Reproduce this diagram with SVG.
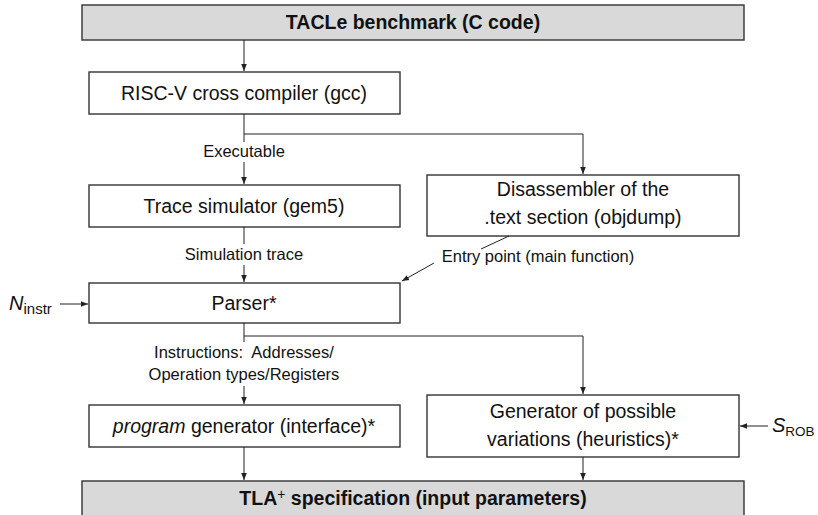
<svg xmlns="http://www.w3.org/2000/svg" width="818" height="515" viewBox="0 0 818 515">
<defs>
<marker id="ah" viewBox="0 0 10 10" refX="10" refY="5" markerWidth="7" markerHeight="7" markerUnits="userSpaceOnUse" orient="auto">
<path d="M0,1 L10,5 L0,9 z" fill="#222"/>
</marker>
<style>
.box{fill:#fff;stroke:#333;stroke-width:1.4}
.gbox{fill:#d9d9d9;stroke:#333;stroke-width:1.4}
.t{font-family:"Liberation Sans",Arial,sans-serif;font-size:19.5px;fill:#111;text-anchor:middle}
.b{font-weight:bold;font-size:19.5px}
.l{font-family:"Liberation Sans",Arial,sans-serif;font-size:16.5px;fill:#111;text-anchor:middle}
.c{fill:none;stroke:#222;stroke-width:1}
</style>
</defs>
<rect width="818" height="515" fill="#fff"/>
<g id="tacle"><rect class="gbox" x="82" y="5" width="662" height="35"/><text class="t b" x="413" y="29">TACLe benchmark (C code)</text></g>
<g id="riscv"><rect class="box" x="89" y="72" width="311" height="42"/><text class="t" x="244" y="100">RISC-V cross compiler (gcc)</text></g>
<g id="trace"><rect class="box" x="89" y="185" width="311" height="42"/><text class="t" x="244" y="213">Trace simulator (gem5)</text></g>
<g id="disasm"><rect class="box" x="427" y="175" width="312" height="61"/><text class="t" x="583" y="196">Disassembler of the</text><text class="t" x="583" y="224">.text section (objdump)</text></g>
<g id="parser"><rect class="box" x="89" y="283" width="311" height="40"/><text class="t" x="244" y="310">Parser*</text></g>
<g id="proggen"><rect class="box" x="89" y="405" width="311" height="42"/><text class="t" x="244" y="433"><tspan font-style="italic">program</tspan> generator (interface)*</text></g>
<g id="vargen"><rect class="box" x="427" y="395" width="312" height="62"/><text class="t" x="583" y="418">Generator of possible</text><text class="t" x="583" y="446">variations (heuristics)*</text></g>
<g id="tla"><rect class="gbox" x="82" y="481" width="662" height="40"/><text class="t b" x="413" y="505">TLA<tspan baseline-shift="45%" font-size="14" font-weight="normal">+</tspan> specification (input parameters)</text></g>
<g id="ninstr"><text font-family="Liberation Sans,Arial,sans-serif" font-size="20" font-style="italic" x="9" y="310" fill="#111">N<tspan font-style="normal" font-size="15" dy="4">instr</tspan></text></g>
<g id="srob"><text font-family="Liberation Sans,Arial,sans-serif" font-size="20" font-style="italic" x="772" y="432" fill="#111">S<tspan font-style="normal" font-size="13.5" dy="4">ROB</tspan></text></g>
<g id="connectors">
<line class="c" x1="244" y1="40" x2="244" y2="71" marker-end="url(#ah)"/>
<path class="c" d="M244,114 V142"/>
<path class="c" d="M244,162 V184" marker-end="url(#ah)"/>
<path class="c" d="M244,134 H583 V174" marker-end="url(#ah)"/>
<text class="l" x="244" y="157">Executable</text>
<path class="c" d="M244,227 V244"/>
<path class="c" d="M244,265 V282" marker-end="url(#ah)"/>
<text class="l" x="244" y="260">Simulation trace</text>
<path class="c" d="M509,236 L481,249"/>
<path class="c" d="M434,263 L402,281" marker-end="url(#ah)"/>
<text class="l" x="538" y="262">Entry point (main function)</text>
<path class="c" d="M244,323 V342"/>
<path class="c" d="M244,386 V404" marker-end="url(#ah)"/>
<path class="c" d="M244,336 H583 V394" marker-end="url(#ah)"/>
<text class="l" x="244" y="358" xml:space="preserve">Instructions:  Addresses/</text>
<text class="l" x="244" y="380">Operation types/Registers</text>
<path class="c" d="M244,447 V480" marker-end="url(#ah)"/>
<path class="c" d="M583,457 V480" marker-end="url(#ah)"/>
<path class="c" d="M60,304 H88" marker-end="url(#ah)"/>
<path class="c" d="M768,426 H740" marker-end="url(#ah)"/>
</g>
</svg>
